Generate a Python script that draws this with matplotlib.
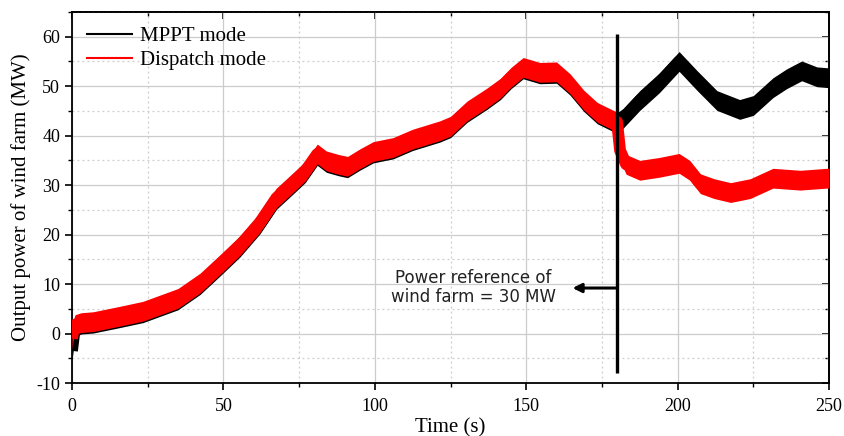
import matplotlib
matplotlib.use("Agg")
import matplotlib.pyplot as plt
from matplotlib.lines import Line2D
from matplotlib.ticker import MultipleLocator
import numpy as np

# ---- data ----
mppt_t = [0, 0.5, 1, 3, 7, 15, 23.4, 35, 42.3, 49, 55.5, 62, 67.5, 73, 77, 81, 84, 88, 91, 95,
          99.5, 106, 112.5, 121.5, 125, 130.5, 137, 141.5, 145, 149, 154.5, 160, 164.5, 169,
          173.5, 178.5, 180, 182, 187.5, 194, 200.5, 206.5, 213, 220.5, 225, 231.5, 236, 241,
          246, 250]
mppt_p = [-3.5, -1.0, 1.4, 1.9, 2.1, 3.1, 4.2, 6.8, 9.9, 13.7, 17.5, 22.1, 27.1, 30.2, 32.5, 36.0,
          34.6, 33.9, 33.5, 35.0, 36.5, 37.3, 39.0, 40.7, 41.6, 44.7, 47.3, 49.3, 51.5, 53.5, 52.5,
          52.6, 50.2, 46.9, 44.4, 42.9, 42.6, 43.5, 47.1, 50.7, 55.0, 51.1, 47.1, 45.3, 46.1, 49.7,
          51.5, 53.1, 51.9, 51.7]

disp_t = [0, 0.5, 1, 3, 7, 15, 23.4, 35, 42.3, 49, 55.5, 62, 67.5, 73, 77, 81, 84, 88, 91, 95,
          99.5, 106, 112.5, 121.5, 125, 130.5, 137, 141.5, 145, 149, 154.5, 160, 164.5, 169,
          173.5, 178.5, 180, 181, 183, 187.5, 194, 200.5, 204, 207.5, 212, 217.5, 224, 231.5,
          240.5, 249.3, 250]
disp_p = [-1.0, 0.8, 1.8, 2.2, 2.4, 3.4, 4.5, 7.1, 10.2, 14.0, 17.8, 22.4, 27.4, 30.5, 32.8, 36.3,
          34.9, 34.2, 33.8, 35.3, 36.8, 37.6, 39.3, 41.0, 41.9, 45.0, 47.6, 49.6, 51.8, 53.8, 52.8,
          52.9, 50.5, 47.2, 44.7, 43.2, 42.8, 37.0, 34.2, 33.0, 33.6, 34.4, 33.0, 30.3, 29.3, 28.5,
          29.3, 31.4, 31.0, 31.4, 31.4]

series_labels = ["MPPT mode", "Dispatch mode"]
x_ticks = [0, 50, 100, 150, 200, 250]
y_ticks = [-10, 0, 10, 20, 30, 40, 50, 60]
switch_time = 180
annot_text = "Power reference of\nwind farm = 30 MW"

# ---- figure ----
serif = ["Liberation Serif", "DejaVu Serif"]
plt.rcParams["font.family"] = serif
plt.rcParams["axes.unicode_minus"] = False

fig = plt.figure(figsize=(8.44, 4.36), dpi=100)
ax = fig.add_axes([72 / 844, 53 / 436, 757 / 844, 371 / 436])

band = 2.0
mt, mp = np.array(mppt_t), np.array(mppt_p)
dt, dp = np.array(disp_t), np.array(disp_p)
ax.fill_between(mt, mp - band, mp + band, color="black", lw=0, zorder=3)
ax.plot(mt, mp, color="black", lw=8.5, solid_joinstyle="round", solid_capstyle="butt", zorder=3)
ax.fill_between(dt, dp - band, dp + band, color="#ff0000", lw=0, zorder=4)
ax.plot(dt, dp, color="#ff0000", lw=8.5, solid_joinstyle="round", solid_capstyle="butt", zorder=4)

# vertical switch line and arrow
ax.plot([switch_time, switch_time], [-8, 60.6], color="black", lw=2.4, zorder=6,
        solid_capstyle="butt")
ax.annotate("", xy=(165.3, 9.2), xytext=(switch_time, 9.2),
            arrowprops=dict(arrowstyle="-|>", color="black", lw=2.2, mutation_scale=13,
                            shrinkA=0, shrinkB=0), zorder=6)
ax.text(132.5, 9.3, annot_text, ha="center", va="center", fontsize=12,
        family=["DejaVu Sans"], color="#222222", linespacing=1.1, zorder=7)

ax.set_xlim(0, 250)
ax.set_ylim(-10, 65)
ax.set_xticks(x_ticks)
ax.set_yticks(y_ticks)
ax.xaxis.set_minor_locator(MultipleLocator(25))
ax.yaxis.set_minor_locator(MultipleLocator(5))

ax.set_axisbelow(True)
ax.grid(which="major", color="#cccccc", lw=0.9, ls="-")
ax.grid(which="minor", color="#cccccc", lw=0.9, ls=(0, (1.5, 2.5)))

for s in ax.spines.values():
    s.set_linewidth(1.3)

ax.tick_params(which="major", direction="out", length=5, width=1.2, labelsize=13,
               top=False, right=False)
ax.tick_params(which="minor", direction="out", length=3, width=1.0, top=False, right=False)
ax.tick_params(axis="x", pad=6)

secx = ax.secondary_xaxis("top")
secx.set_xticks(x_ticks)
secx.xaxis.set_minor_locator(MultipleLocator(25))
secx.tick_params(which="major", direction="in", length=5, width=1.2, labeltop=False)
secx.tick_params(which="minor", direction="in", length=3, width=1.0)
secx.spines["top"].set_linewidth(1.3)

secy = ax.secondary_yaxis("right")
secy.set_yticks(y_ticks)
secy.yaxis.set_minor_locator(MultipleLocator(5))
secy.tick_params(which="major", direction="in", length=5, width=1.2, labelright=False)
secy.tick_params(which="minor", direction="in", length=3, width=1.0)
secy.spines["right"].set_linewidth(1.3)

ax.set_xlabel("Time (s)", fontsize=15, labelpad=2)
ax.set_ylabel("Output power of wind farm (MW)", fontsize=15, labelpad=4)

handles = [Line2D([], [], color="black", lw=1.5), Line2D([], [], color="#ff0000", lw=1.5)]
ax.legend(handles, series_labels, loc="upper left", frameon=False, fontsize=15,
          handlelength=2.2, handletextpad=0.35, labelspacing=0.2,
          bbox_to_anchor=(0.0, 1.0), borderaxespad=0.3)

fig.savefig("out.png", dpi=100)
